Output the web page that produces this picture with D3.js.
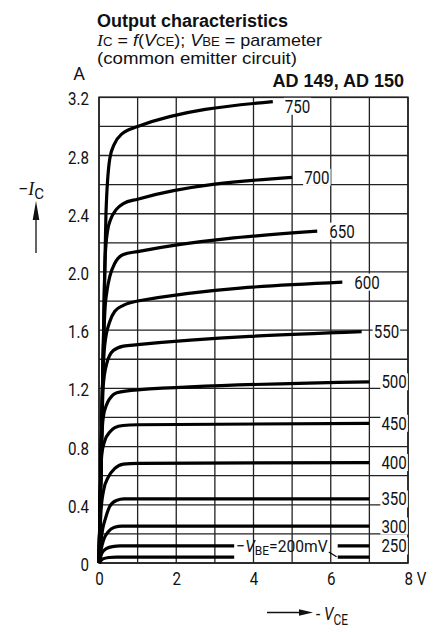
<!DOCTYPE html>
<html>
<head>
<meta charset="utf-8">
<script src="https://cdn.jsdelivr.net/npm/d3@7"></script>
<style>
  body { margin: 0; background: #fff; }
  .num { font-family: Roboto, "Liberation Sans", sans-serif; font-size: 18px; fill: #111; }
  .ttl { font-family: "Liberation Sans", Arial, sans-serif; font-size: 18px; fill: #111; }
</style>
</head>
<body>
<svg id="chart" width="436" height="632"></svg>
<script>
// tick labels / grid
var xTicks = [0, 2, 4, 6, 8];
var yTicks = [0, 0.4, 0.8, 1.2, 1.6, 2.0, 2.4, 2.8, 3.2];
var xGrid = [0, 1, 2, 3, 4, 5, 6, 7, 8];
var yGrid = [0, 0.2, 0.4, 0.6, 0.8, 1.0, 1.2, 1.4, 1.6, 1.8, 2.0, 2.2, 2.4, 2.6, 2.8, 3.0, 3.2];

// V_BE parameter (mV) and curves [-V_CE (V), -I_C (A)]
var vbe = [750, 700, 650, 600, 550, 500, 450, 400, 350, 300, 250, 200];
var ic750 = [[0,0],[0.12,1.6],[0.18,2.4],[0.28,2.78],[0.4,2.88],[0.6,2.95],[0.8,2.98],[1,3.0],[4.5,3.17]];
var ic700 = [[0,0],[0.11,1.45],[0.16,2.1],[0.22,2.28],[0.3,2.36],[0.45,2.43],[0.63,2.47],[1,2.5],[5,2.65]];
var ic650 = [[0,0],[0.1,1.35],[0.15,1.72],[0.21,1.875],[0.28,1.97],[0.41,2.06],[0.63,2.12],[1,2.14],[5.65,2.28]];
var ic600 = [[0,0],[0.09,1.2],[0.15,1.5],[0.28,1.66],[0.41,1.73],[0.63,1.77],[1,1.8],[6.3,1.93]];
var ic550 = [[0,0],[0.08,1.0],[0.11,1.22],[0.2,1.37],[0.37,1.46],[0.63,1.49],[1,1.5],[6.8,1.59]];
var ic500 = [[0,0],[0.07,0.85],[0.11,1.0],[0.2,1.09],[0.28,1.13],[0.46,1.17],[1,1.19],[7,1.245]];
var ic450 = [[0,0],[0.07,0.74],[0.15,0.84],[0.28,0.9],[0.41,0.93],[0.62,0.945],[1,0.95],[7,0.96]];
var ic400 = [[0,0],[0.05,0.35],[0.12,0.5],[0.24,0.59],[0.41,0.65],[0.63,0.68],[1,0.685],[7,0.69]];
var ic350 = [[0,0],[0.05,0.15],[0.1,0.24],[0.16,0.3],[0.28,0.39],[0.45,0.43],[0.65,0.44],[7,0.44]];
var ic300 = [[0,0],[0.06,0.1],[0.12,0.16],[0.24,0.215],[0.4,0.245],[0.6,0.254],[7,0.254]];
var ic250 = [[0,0],[0.08,0.07],[0.2,0.1],[0.35,0.113],[0.55,0.117],[3.5,0.117],null,[6.18,0.117],[7,0.117]];
var ic200 = [[0,0],[0.1,0.028],[0.25,0.038],[0.45,0.041],[3.5,0.041],null,[6.18,0.041],[7,0.041]];
var leader200 = [[5.95,0.075],[6.15,0.043]];

var curves = [ic750, ic700, ic650, ic600, ic550, ic500, ic450, ic400, ic350, ic300, ic250, ic200];

var svg = d3.select("#chart");

var x = d3.scaleLinear().domain([0, 8]).range([99, 408]);
var y = d3.scaleLinear().domain([0, 3.2]).range([563, 97.3]);

// squeeze text to look like the condensed lettering of the original
function narrow(sel, k) {
  sel.each(function() {
    var w = this.getComputedTextLength();
    d3.select(this).attr("textLength", w * k).attr("lengthAdjust", "spacingAndGlyphs");
  });
}

// grid
var grid = svg.append("g").attr("stroke", "#222").attr("stroke-width", 1.3);
grid.selectAll(".vg").data(xGrid).enter().append("line")
  .attr("x1", function(d) { return x(d); }).attr("x2", function(d) { return x(d); })
  .attr("y1", y(0)).attr("y2", y(3.2));
grid.selectAll(".hg").data(yGrid).enter().append("line")
  .attr("x1", x(0)).attr("x2", x(8))
  .attr("y1", function(d) { return y(d); }).attr("y2", function(d) { return y(d); });
grid.append("rect")
  .attr("x", x(0)).attr("y", y(3.2))
  .attr("width", x(8) - x(0)).attr("height", y(0) - y(3.2))
  .attr("fill", "none").attr("stroke-width", 1.6);

// axes labels
var yAxis = svg.append("g")
  .attr("transform", "translate(" + x(0) + ",0)")
  .call(d3.axisLeft(y).tickValues(yTicks).tickSize(0).tickPadding(10)
    .tickFormat(function(d) { return d === 0 ? "0" : d3.format(".1f")(d); }));
yAxis.select(".domain").remove();
yAxis.selectAll("text").attr("class", "num").attr("dy", "0.42em").call(narrow, 0.84);

var xAxis = svg.append("g")
  .attr("transform", "translate(0," + y(0) + ")")
  .call(d3.axisBottom(x).tickValues(xTicks).tickSize(0).tickPadding(9)
    .tickFormat(function(d) { return d; }));
xAxis.select(".domain").remove();
xAxis.selectAll("text").attr("class", "num");
xAxis.selectAll(".tick").filter(function(d) { return d === 8; }).select("text")
  .attr("text-anchor", "start").attr("x", -4).text("8 V");
xAxis.selectAll("text").call(narrow, 0.84);

// curves
var line = d3.line()
  .defined(function(d) { return d; })
  .curve(d3.curveMonotoneX)
  .x(function(d) { return x(d[0]); })
  .y(function(d) { return y(d[1]); });

svg.append("g").selectAll("path")
  .data(curves).enter().append("path")
  .attr("d", line)
  .attr("fill", "none")
  .attr("stroke", "#000")
  .attr("stroke-width", 3.2);

svg.append("path")
  .attr("d", d3.line().x(function(d) { return x(d[0]); }).y(function(d) { return y(d[1]); })(leader200))
  .attr("fill", "none").attr("stroke", "#000").attr("stroke-width", 1.2);

// curve labels with white boxes
function boxed(t) {
  var b = t.node().getBBox();
  d3.select(t.node().parentNode).insert("rect", function() { return t.node(); })
    .attr("x", b.x - 1).attr("y", b.y + 2).attr("width", b.width + 2).attr("height", b.height - 4)
    .attr("fill", "#fff");
}

var lbl = svg.append("g");
vbe.forEach(function(v, i) {
  if (v === 200) return;
  var c = curves[i], end = c[c.length - 1];
  var ly = Math.max(y(end[1]), y(3.2) + 9);
  var t = lbl.append("text").attr("class", "num")
    .attr("x", x(end[0]) + 12).attr("y", ly).attr("dy", "0.36em")
    .text(v);
  t.call(narrow, 0.84);
  boxed(t);
});

var t200 = lbl.append("text").attr("class", "num").style("font-size", "17px")
  .attr("x", x(3.5) + 2).attr("y", y(0.117)).attr("dy", "0.38em");
t200.append("tspan").text("\u2212");
t200.append("tspan").attr("font-style", "italic").text("V");
t200.append("tspan").style("font-size", "13px").attr("dy", "3").text("BE");
t200.append("tspan").attr("dy", "-3").text("=200mV");
t200.attr("textLength", x(6.18) - x(3.5) - 12).attr("lengthAdjust", "spacingAndGlyphs");

// y title and arrow
var yt = svg.append("text").attr("class", "num").attr("x", 18).attr("y", 195);
yt.append("tspan").text("\u2212");
yt.append("tspan").attr("font-style", "italic").attr("font-family", "Liberation Serif, serif").text("I");
yt.append("tspan").attr("font-size", "15px").attr("dy", "4").text("C");
svg.append("line").attr("x1", 36).attr("x2", 36).attr("y1", 253).attr("y2", 215)
  .attr("stroke", "#111").attr("stroke-width", 1.3);
svg.append("path").attr("d", "M36,201L39.3,220L32.7,220Z").attr("fill", "#111");

// x title and arrow
svg.append("line").attr("x1", 267).attr("x2", 302).attr("y1", 612.5).attr("y2", 612.5)
  .attr("stroke", "#111").attr("stroke-width", 1.3);
svg.append("path").attr("d", "M313,612.5L299,609.2L299,615.8Z").attr("fill", "#111");
var xt = svg.append("text").attr("class", "num").attr("x", 316).attr("y", 620);
xt.append("tspan").text("- ");
xt.append("tspan").attr("font-style", "italic").text("V");
xt.append("tspan").attr("font-size", "14px").attr("dy", "5").text("CE");
xt.call(narrow, 0.85);

// unit
svg.append("text").attr("class", "num").attr("x", 79).attr("y", 80).attr("text-anchor", "middle").text("A");

// titles
svg.append("text").attr("class", "ttl").attr("x", 97).attr("y", 26.7)
  .attr("font-weight", "bold").text("Output characteristics");
var l2 = svg.append("text").attr("class", "ttl").style("font-size", "17px")
  .attr("x", 97).attr("y", 46).attr("textLength", 225).attr("lengthAdjust", "spacingAndGlyphs");
l2.append("tspan").attr("font-style", "italic").attr("font-family", "Liberation Serif, serif").text("I");
l2.append("tspan").style("font-size", "12.5px").text("C");
l2.append("tspan").text(" = ");
l2.append("tspan").attr("font-style", "italic").text("f");
l2.append("tspan").text("(");
l2.append("tspan").attr("font-style", "italic").text("V");
l2.append("tspan").style("font-size", "12.5px").text("CE");
l2.append("tspan").text("); ");
l2.append("tspan").attr("font-style", "italic").text("V");
l2.append("tspan").style("font-size", "12.5px").text("BE");
l2.append("tspan").text(" = parameter");
svg.append("text").attr("class", "ttl").style("font-size", "17px")
  .attr("x", 97).attr("y", 64.2).attr("textLength", 200).attr("lengthAdjust", "spacingAndGlyphs")
  .text("(common emitter circuit)");
svg.append("text").attr("class", "ttl").attr("x", 404).attr("y", 86.7)
  .attr("font-weight", "bold").attr("text-anchor", "end").text("AD 149, AD 150");
</script>
</body>
</html>
